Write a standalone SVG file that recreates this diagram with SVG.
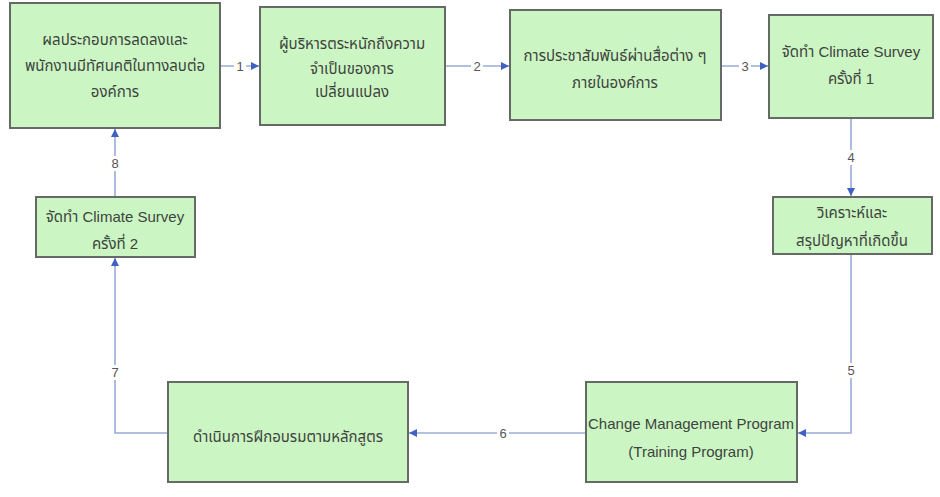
<svg xmlns="http://www.w3.org/2000/svg" width="940" height="497" viewBox="0 0 940 497">
<style>
.box{fill:#ccf5c4;stroke:#666a66;stroke-width:2}
.t{font-family:"Liberation Sans","Noto Sans","Noto Sans Thai",sans-serif;font-size:15px;fill:#3d443d;text-anchor:middle}
.c{fill:none;stroke:#9aabd6;stroke-width:1.6}
.lb{font-family:"Liberation Sans",sans-serif;font-size:13px;fill:#555;text-anchor:middle}
.bg{fill:#ffffff}
</style>
<defs>
<marker id="ah" viewBox="0 0 10 10" refX="10" refY="5" markerWidth="8" markerHeight="8" markerUnits="userSpaceOnUse" orient="auto">
<path d="M0,0 L10,5 L0,10 z" fill="#3d62c2"/>
</marker>
</defs>
<rect width="940" height="497" fill="#ffffff"/>
<g id="connectors">
<path class="c" d="M220,66 L259,66" marker-end="url(#ah)"/>
<path class="c" d="M445,66 L509,66" marker-end="url(#ah)"/>
<path class="c" d="M721,66 L768,66" marker-end="url(#ah)"/>
<path class="c" d="M851,118 L851,196" marker-end="url(#ah)"/>
<path class="c" d="M851,254 L851,433 L798,433" marker-end="url(#ah)"/>
<path class="c" d="M586,433 L409,433" marker-end="url(#ah)"/>
<path class="c" d="M168,433 L115,433 L115,258" marker-end="url(#ah)"/>
<path class="c" d="M115,197 L115,129" marker-end="url(#ah)"/>
<rect class="bg" x="234" y="58" width="12" height="15"/><text class="lb" x="240" y="71">1</text>
<rect class="bg" x="471" y="58" width="12" height="15"/><text class="lb" x="477" y="71">2</text>
<rect class="bg" x="739" y="58" width="12" height="15"/><text class="lb" x="745" y="71">3</text>
<rect class="bg" x="845" y="150" width="12" height="15"/><text class="lb" x="851" y="162">4</text>
<rect class="bg" x="845" y="363" width="12" height="15"/><text class="lb" x="851" y="375">5</text>
<rect class="bg" x="497" y="425" width="12" height="15"/><text class="lb" x="503" y="438">6</text>
<rect class="bg" x="109" y="365" width="12" height="15"/><text class="lb" x="115" y="377">7</text>
<rect class="bg" x="109" y="156" width="12" height="15"/><text class="lb" x="115" y="168">8</text>
</g>
<g id="n1"><rect class="box" x="10" y="3" width="210" height="125"/>
<text class="t" x="115" y="45">ผลประกอบการลดลงและ</text>
<text class="t" x="115" y="71">พนักงานมีทัศนคติในทางลบต่อ</text>
<text class="t" x="115" y="97">องค์การ</text></g>
<g id="n2"><rect class="box" x="260" y="7" width="185" height="118"/>
<text class="t" x="352" y="49">ผู้บริหารตระหนักถึงความ</text>
<text class="t" x="352" y="74">จำเป็นของการ</text>
<text class="t" x="352" y="97">เปลี่ยนแปลง</text></g>
<g id="n3"><rect class="box" x="510" y="10" width="211" height="110"/>
<text class="t" x="615" y="61">การประชาสัมพันธ์ผ่านสื่อต่าง ๆ</text>
<text class="t" x="615" y="88">ภายในองค์การ</text></g>
<g id="n4"><rect class="box" x="769" y="15" width="164" height="103"/>
<text class="t" x="851" y="57">จัดทำ Climate Survey</text>
<text class="t" x="851" y="84">ครั้งที่ 1</text></g>
<g id="n5"><rect class="box" x="773" y="197" width="159" height="57"/>
<text class="t" x="852" y="218">วิเคราะห์และ</text>
<text class="t" x="852" y="246">สรุปปัญหาที่เกิดขึ้น</text></g>
<g id="n6"><rect class="box" x="586" y="382" width="211" height="100"/>
<text class="t" x="691" y="429">Change Management Program</text>
<text class="t" x="691" y="457">(Training Program)</text></g>
<g id="n7"><rect class="box" x="168" y="382" width="240" height="100"/>
<text class="t" x="288" y="442">ดำเนินการฝึกอบรมตามหลักสูตร</text></g>
<g id="n8"><rect class="box" x="36" y="197" width="159" height="60"/>
<text class="t" x="115" y="222">จัดทำ Climate Survey</text>
<text class="t" x="115" y="249">ครั้งที่ 2</text></g>
</svg>
